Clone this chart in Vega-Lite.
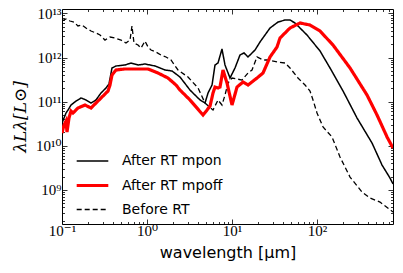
{
  "$schema": "https://vega.github.io/schema/vega-lite/v6.json",
  "autosize": {"type": "none"},
  "width": 331,
  "height": 215,
  "padding": {"left": 62, "top": 9, "right": 10, "bottom": 49},
  "background": "white",
  "config": {
    "view": {"stroke": "black", "strokeWidth": 1},
    "axis": {"grid": false, "domain": false, "tickColor": "black", "labelColor": "black", "titleColor": "black", "labelFlush": false, "labelOverlap": false, "tickWidth": 0.8}
  },
  "data": {"values": [
    {"series": "Before RT", "wavelength": 0.1, "L": 6.73e12},
    {"series": "Before RT", "wavelength": 0.1114, "L": 7.47e12},
    {"series": "Before RT", "wavelength": 0.1242, "L": 6.73e12},
    {"series": "Before RT", "wavelength": 0.1384, "L": 6.38e12},
    {"series": "Before RT", "wavelength": 0.154, "L": 5.19e12},
    {"series": "Before RT", "wavelength": 0.1718, "L": 5.46e12},
    {"series": "Before RT", "wavelength": 0.1915, "L": 4.67e12},
    {"series": "Before RT", "wavelength": 0.2193, "L": 3.99e12},
    {"series": "Before RT", "wavelength": 0.2512, "L": 3.6e12},
    {"series": "Before RT", "wavelength": 0.2801, "L": 3.24e12},
    {"series": "Before RT", "wavelength": 0.3206, "L": 2.49e12},
    {"series": "Before RT", "wavelength": 0.3671, "L": 2.92e12},
    {"series": "Before RT", "wavelength": 0.4204, "L": 2.77e12},
    {"series": "Before RT", "wavelength": 0.4946, "L": 2.49e12},
    {"series": "Before RT", "wavelength": 0.5658, "L": 2.13e12},
    {"series": "Before RT", "wavelength": 0.631, "L": 2.49e12},
    {"series": "Before RT", "wavelength": 0.6655, "L": 5.19e12},
    {"series": "Before RT", "wavelength": 0.703, "L": 2.13e12},
    {"series": "Before RT", "wavelength": 0.7841, "L": 1.92e12},
    {"series": "Before RT", "wavelength": 0.8498, "L": 1.64e12},
    {"series": "Before RT", "wavelength": 0.9469, "L": 2.37e12},
    {"series": "Before RT", "wavelength": 1.0275, "L": 1.73e12},
    {"series": "Before RT", "wavelength": 1.1145, "L": 1.48e12},
    {"series": "Before RT", "wavelength": 1.276, "L": 1.33e12},
    {"series": "Before RT", "wavelength": 1.4604, "L": 1.14e12},
    {"series": "Before RT", "wavelength": 1.673, "L": 1.03e12},
    {"series": "Before RT", "wavelength": 1.9159, "L": 8.79e11},
    {"series": "Before RT", "wavelength": 2.3157, "L": 5.22e11},
    {"series": "Before RT", "wavelength": 3.0353, "L": 3.61e11},
    {"series": "Before RT", "wavelength": 3.981, "L": 2.04e11},
    {"series": "Before RT", "wavelength": 4.8143, "L": 9.31e10},
    {"series": "Before RT", "wavelength": 5.9778, "L": 6.45e10},
    {"series": "Before RT", "wavelength": 6.8399, "L": 1.09e11},
    {"series": "Before RT", "wavelength": 7.6236, "L": 8.38e10},
    {"series": "Before RT", "wavelength": 8.2694, "L": 1.41e11},
    {"series": "Before RT", "wavelength": 8.9706, "L": 2.64e11},
    {"series": "Before RT", "wavelength": 10, "L": 3.43e11},
    {"series": "Before RT", "wavelength": 11.45, "L": 3.26e11},
    {"series": "Before RT", "wavelength": 13.11, "L": 3.09e11},
    {"series": "Before RT", "wavelength": 15.42, "L": 4.46e11},
    {"series": "Before RT", "wavelength": 17.19, "L": 5.22e11},
    {"series": "Before RT", "wavelength": 19.68, "L": 1.03e12},
    {"series": "Before RT", "wavelength": 23.15, "L": 8.79e11},
    {"series": "Before RT", "wavelength": 26.53, "L": 8.79e11},
    {"series": "Before RT", "wavelength": 34.76, "L": 7.91e11},
    {"series": "Before RT", "wavelength": 42.06, "L": 7.51e11},
    {"series": "Before RT", "wavelength": 48.1, "L": 5.79e11},
    {"series": "Before RT", "wavelength": 59.7, "L": 3.43e11},
    {"series": "Before RT", "wavelength": 72.3, "L": 2.38e11},
    {"series": "Before RT", "wavelength": 82.7, "L": 1.74e11},
    {"series": "Before RT", "wavelength": 89.7, "L": 1.09e11},
    {"series": "Before RT", "wavelength": 100, "L": 5.52e10},
    {"series": "Before RT", "wavelength": 117.7, "L": 2.66e10},
    {"series": "Before RT", "wavelength": 150.1, "L": 1.58e10},
    {"series": "Before RT", "wavelength": 186.4, "L": 5.55e9},
    {"series": "Before RT", "wavelength": 244.5, "L": 1.95e9},
    {"series": "Before RT", "wavelength": 338.4, "L": 8.92e8},
    {"series": "Before RT", "wavelength": 420.4, "L": 6.52e8},
    {"series": "Before RT", "wavelength": 551, "L": 5.29e8},
    {"series": "Before RT", "wavelength": 783, "L": 3.14e8},

    {"series": "After RT mpon", "wavelength": 0.1, "L": 3.27e10},
    {"series": "After RT mpon", "wavelength": 0.1056, "L": 4.25e10},
    {"series": "After RT mpon", "wavelength": 0.1114, "L": 5.52e10},
    {"series": "After RT mpon", "wavelength": 0.1177, "L": 6.45e10},
    {"series": "After RT mpon", "wavelength": 0.1276, "L": 8.38e10},
    {"series": "After RT mpon", "wavelength": 0.1462, "L": 1.03e11},
    {"series": "After RT mpon", "wavelength": 0.1674, "L": 1.21e11},
    {"series": "After RT mpon", "wavelength": 0.1915, "L": 1.09e11},
    {"series": "After RT mpon", "wavelength": 0.2193, "L": 9.31e10},
    {"series": "After RT mpon", "wavelength": 0.2512, "L": 1.09e11},
    {"series": "After RT mpon", "wavelength": 0.2876, "L": 1.57e11},
    {"series": "After RT mpon", "wavelength": 0.3294, "L": 2.04e11},
    {"series": "After RT mpon", "wavelength": 0.357, "L": 2.51e11},
    {"series": "After RT mpon", "wavelength": 0.3873, "L": 5.79e11},
    {"series": "After RT mpon", "wavelength": 0.4318, "L": 6.43e11},
    {"series": "After RT mpon", "wavelength": 0.5508, "L": 6.77e11},
    {"series": "After RT mpon", "wavelength": 0.648, "L": 7.51e11},
    {"series": "After RT mpon", "wavelength": 0.7841, "L": 6.77e11},
    {"series": "After RT mpon", "wavelength": 0.9469, "L": 7.13e11},
    {"series": "After RT mpon", "wavelength": 1.2417, "L": 6.43e11},
    {"series": "After RT mpon", "wavelength": 1.6281, "L": 5.22e11},
    {"series": "After RT mpon", "wavelength": 1.969, "L": 4.95e11},
    {"series": "After RT mpon", "wavelength": 2.4447, "L": 3.61e11},
    {"series": "After RT mpon", "wavelength": 3.2048, "L": 1.83e11},
    {"series": "After RT mpon", "wavelength": 4.2036, "L": 1.09e11},
    {"series": "After RT mpon", "wavelength": 4.8143, "L": 9.31e10},
    {"series": "After RT mpon", "wavelength": 5.2237, "L": 1.57e11},
    {"series": "After RT mpon", "wavelength": 5.82, "L": 2.38e11},
    {"series": "After RT mpon", "wavelength": 6.3096, "L": 6.77e11},
    {"series": "After RT mpon", "wavelength": 6.84, "L": 7.51e11},
    {"series": "After RT mpon", "wavelength": 7.6236, "L": 1.56e12},
    {"series": "After RT mpon", "wavelength": 8.27, "L": 6.77e11},
    {"series": "After RT mpon", "wavelength": 9.47, "L": 3.43e11},
    {"series": "After RT mpon", "wavelength": 10.84, "L": 5.79e11},
    {"series": "After RT mpon", "wavelength": 12.41, "L": 1.14e12},
    {"series": "After RT mpon", "wavelength": 13.84, "L": 1.27e12},
    {"series": "After RT mpon", "wavelength": 15.42, "L": 1.03e12},
    {"series": "After RT mpon", "wavelength": 18.64, "L": 1.48e12},
    {"series": "After RT mpon", "wavelength": 21.35, "L": 2.25e12},
    {"series": "After RT mpon", "wavelength": 28.01, "L": 4.67e12},
    {"series": "After RT mpon", "wavelength": 34.76, "L": 6.38e12},
    {"series": "After RT mpon", "wavelength": 42.06, "L": 7.09e12},
    {"series": "After RT mpon", "wavelength": 48.1, "L": 7.09e12},
    {"series": "After RT mpon", "wavelength": 55.1, "L": 6.06e12},
    {"series": "After RT mpon", "wavelength": 76.2, "L": 3.24e12},
    {"series": "After RT mpon", "wavelength": 108.4, "L": 1.41e12},
    {"series": "After RT mpon", "wavelength": 142.2, "L": 5.79e11},
    {"series": "After RT mpon", "wavelength": 202.4, "L": 1.74e11},
    {"series": "After RT mpon", "wavelength": 295.7, "L": 4.25e10},
    {"series": "After RT mpon", "wavelength": 443.8, "L": 1.15e10},
    {"series": "After RT mpon", "wavelength": 581.8, "L": 3.65e9},
    {"series": "After RT mpon", "wavelength": 722, "L": 1.85e9},
    {"series": "After RT mpon", "wavelength": 783, "L": 1.36e9},

    {"series": "After RT mpoff", "wavelength": 0.1, "L": 1.94e10},
    {"series": "After RT mpoff", "wavelength": 0.1056, "L": 2.95e10},
    {"series": "After RT mpoff", "wavelength": 0.1114, "L": 3.63e10},
    {"series": "After RT mpoff", "wavelength": 0.1145, "L": 2.05e10},
    {"series": "After RT mpoff", "wavelength": 0.1209, "L": 4.25e10},
    {"series": "After RT mpoff", "wavelength": 0.1276, "L": 6.13e10},
    {"series": "After RT mpoff", "wavelength": 0.1347, "L": 5.52e10},
    {"series": "After RT mpoff", "wavelength": 0.154, "L": 7.17e10},
    {"series": "After RT mpoff", "wavelength": 0.1866, "L": 8.38e10},
    {"series": "After RT mpoff", "wavelength": 0.2193, "L": 7.17e10},
    {"series": "After RT mpoff", "wavelength": 0.2512, "L": 9.31e10},
    {"series": "After RT mpoff", "wavelength": 0.3036, "L": 1.34e11},
    {"series": "After RT mpoff", "wavelength": 0.3478, "L": 1.74e11},
    {"series": "After RT mpoff", "wavelength": 0.3671, "L": 2.38e11},
    {"series": "After RT mpoff", "wavelength": 0.3873, "L": 4.01e11},
    {"series": "After RT mpoff", "wavelength": 0.4318, "L": 5.22e11},
    {"series": "After RT mpoff", "wavelength": 0.5508, "L": 5.5e11},
    {"series": "After RT mpoff", "wavelength": 0.7841, "L": 5.5e11},
    {"series": "After RT mpoff", "wavelength": 1.0275, "L": 5.5e11},
    {"series": "After RT mpoff", "wavelength": 1.3466, "L": 4.46e11},
    {"series": "After RT mpoff", "wavelength": 1.7655, "L": 3.43e11},
    {"series": "After RT mpoff", "wavelength": 2.1933, "L": 2.38e11},
    {"series": "After RT mpoff", "wavelength": 2.4447, "L": 1.83e11},
    {"series": "After RT mpoff", "wavelength": 3.2048, "L": 1.09e11},
    {"series": "After RT mpoff", "wavelength": 4.5602, "L": 4.97e10},
    {"series": "After RT mpoff", "wavelength": 5.0825, "L": 6.45e10},
    {"series": "After RT mpoff", "wavelength": 5.5146, "L": 7.95e10},
    {"series": "After RT mpoff", "wavelength": 5.9778, "L": 1.57e11},
    {"series": "After RT mpoff", "wavelength": 6.3096, "L": 2.14e11},
    {"series": "After RT mpoff", "wavelength": 6.84, "L": 2.04e11},
    {"series": "After RT mpoff", "wavelength": 7.2211, "L": 2.14e11},
    {"series": "After RT mpoff", "wavelength": 7.8333, "L": 5.22e11},
    {"series": "After RT mpoff", "wavelength": 8.7302, "L": 2.64e11},
    {"series": "After RT mpoff", "wavelength": 10, "L": 8.38e10},
    {"series": "After RT mpoff", "wavelength": 11.45, "L": 2.14e11},
    {"series": "After RT mpoff", "wavelength": 13.47, "L": 2.78e11},
    {"series": "After RT mpoff", "wavelength": 15.42, "L": 2.38e11},
    {"series": "After RT mpoff", "wavelength": 19.68, "L": 3.43e11},
    {"series": "After RT mpoff", "wavelength": 23.15, "L": 4.46e11},
    {"series": "After RT mpoff", "wavelength": 28.01, "L": 1.03e12},
    {"series": "After RT mpoff", "wavelength": 33.83, "L": 1.73e12},
    {"series": "After RT mpoff", "wavelength": 36.7, "L": 2.77e12},
    {"series": "After RT mpoff", "wavelength": 48.1, "L": 4.67e12},
    {"series": "After RT mpoff", "wavelength": 63.1, "L": 6.06e12},
    {"series": "After RT mpoff", "wavelength": 82.7, "L": 5.46e12},
    {"series": "After RT mpoff", "wavelength": 108.4, "L": 3.99e12},
    {"series": "After RT mpoff", "wavelength": 154.2, "L": 1.92e12},
    {"series": "After RT mpoff", "wavelength": 244.5, "L": 5.79e11},
    {"series": "After RT mpoff", "wavelength": 387.5, "L": 1.41e11},
    {"series": "After RT mpoff", "wavelength": 508.2, "L": 4.97e10},
    {"series": "After RT mpoff", "wavelength": 666.4, "L": 1.58e10},
    {"series": "After RT mpoff", "wavelength": 783, "L": 8.87e9}
  ]},
  "layer": [
    {
      "mark": {"type": "line", "clip": true},
      "encoding": {
        "x": {
          "field": "wavelength", "type": "quantitative",
          "scale": {"type": "log", "domain": [0.1, 783], "nice": false},
          "axis": {
            "orient": "bottom",
            "values": [0.1, 0.2, 0.3, 0.4, 0.5, 0.6, 0.7, 0.8, 0.9, 1, 2, 3, 4, 5, 6, 7, 8, 9, 10, 20, 30, 40, 50, 60, 70, 80, 90, 100, 200, 300, 400, 500, 600, 700],
            "labelExpr": "datum.value==0.1?'10⁻¹':datum.value==1?'10⁰':datum.value==10?'10¹':datum.value==100?'10²':''",
            "tickSize": {"condition": {"test": "abs(log(datum.value)/LN10 - round(log(datum.value)/LN10)) < 0.01", "value": -5}, "value": -2.5},
            "labelFont": "Liberation Serif, DejaVu Serif",
            "labelFontSize": 15,
            "labelPadding": 4,
            "title": "wavelength [μm]",
            "titleFont": "DejaVu Sans",
            "titleFontSize": 16,
            "titleFontWeight": "normal",
            "titlePadding": 4
          }
        },
        "y": {
          "field": "L", "type": "quantitative",
          "scale": {"type": "log", "domain": [1.68e8, 1.26e13], "nice": false},
          "axis": {
            "orient": "left",
            "values": [2e8, 3e8, 4e8, 5e8, 6e8, 7e8, 8e8, 9e8, 1e9, 2e9, 3e9, 4e9, 5e9, 6e9, 7e9, 8e9, 9e9, 1e10, 2e10, 3e10, 4e10, 5e10, 6e10, 7e10, 8e10, 9e10, 1e11, 2e11, 3e11, 4e11, 5e11, 6e11, 7e11, 8e11, 9e11, 1e12, 2e12, 3e12, 4e12, 5e12, 6e12, 7e12, 8e12, 9e12, 1e13],
            "labelExpr": "datum.value==1e9?'10⁹':datum.value==1e10?'10¹⁰':datum.value==1e11?'10¹¹':datum.value==1e12?'10¹²':datum.value==1e13?'10¹³':''",
            "tickSize": {"condition": {"test": "abs(log(datum.value)/LN10 - round(log(datum.value)/LN10)) < 0.01", "value": -5}, "value": -2.5},
            "labelFont": "Liberation Serif, DejaVu Serif",
            "labelFontSize": 15,
            "labelPadding": 6,
            "title": "λLλ[L⊙]",
            "titleFont": "DejaVu Serif",
            "titleFontStyle": "italic",
            "titleFontSize": 17,
            "titleFontWeight": "normal",
            "titlePadding": 6
          }
        },
        "color": {
          "field": "series", "type": "nominal",
          "scale": {"domain": ["After RT mpon", "After RT mpoff", "Before RT"], "range": ["black", "#ff0000", "black"]},
          "legend": {
            "title": null,
            "orient": "none",
            "legendX": 13,
            "legendY": 135,
            "symbolType": "stroke",
            "symbolSize": 1000,
            "labelFont": "DejaVu Sans",
            "labelFontSize": 14,
            "labelColor": "black",
            "labelOffset": 12,
            "rowPadding": -13
          }
        },
        "strokeWidth": {
          "field": "series", "type": "nominal",
          "scale": {"type": "ordinal", "domain": ["After RT mpon", "After RT mpoff", "Before RT"], "range": [1.5, 3.2, 1.3]}
        },
        "strokeDash": {
          "field": "series", "type": "nominal",
          "scale": {"domain": ["After RT mpon", "After RT mpoff", "Before RT"], "range": [[1, 0], [1, 0], [5, 3]]}
        }
      }
    },
    {
      "mark": {"type": "line", "opacity": 0},
      "encoding": {
        "x": {
          "field": "wavelength", "type": "quantitative",
          "axis": {
            "orient": "top",
            "values": [0.1, 0.2, 0.3, 0.4, 0.5, 0.6, 0.7, 0.8, 0.9, 1, 2, 3, 4, 5, 6, 7, 8, 9, 10, 20, 30, 40, 50, 60, 70, 80, 90, 100, 200, 300, 400, 500, 600, 700],
            "labels": false,
            "title": null,
            "tickSize": {"condition": {"test": "abs(log(datum.value)/LN10 - round(log(datum.value)/LN10)) < 0.01", "value": -5}, "value": -2.5}
          }
        },
        "y": {
          "field": "L", "type": "quantitative",
          "axis": {
            "orient": "right",
            "values": [2e8, 3e8, 4e8, 5e8, 6e8, 7e8, 8e8, 9e8, 1e9, 2e9, 3e9, 4e9, 5e9, 6e9, 7e9, 8e9, 9e9, 1e10, 2e10, 3e10, 4e10, 5e10, 6e10, 7e10, 8e10, 9e10, 1e11, 2e11, 3e11, 4e11, 5e11, 6e11, 7e11, 8e11, 9e11, 1e12, 2e12, 3e12, 4e12, 5e12, 6e12, 7e12, 8e12, 9e12, 1e13],
            "labels": false,
            "title": null,
            "tickSize": {"condition": {"test": "abs(log(datum.value)/LN10 - round(log(datum.value)/LN10)) < 0.01", "value": -5}, "value": -2.5}
          }
        },
        "detail": {"field": "series", "type": "nominal"}
      }
    }
  ],
  "resolve": {"axis": {"x": "independent", "y": "independent"}}
}
